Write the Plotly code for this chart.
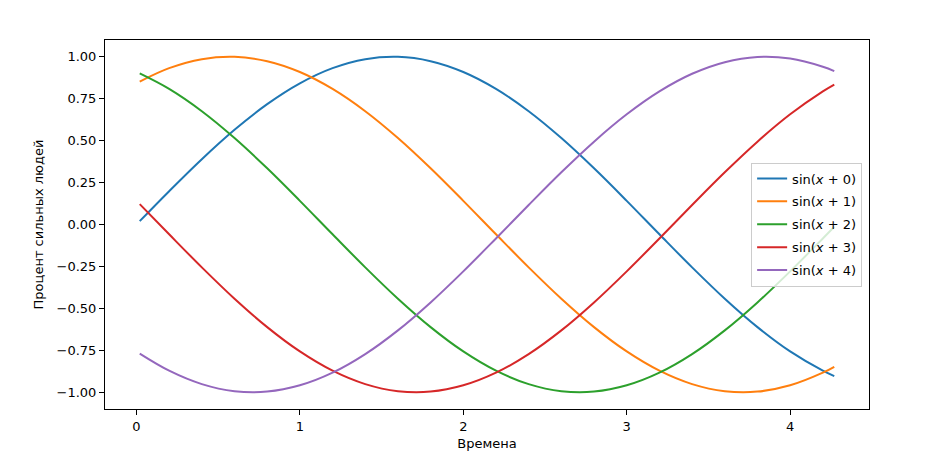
import plotly.graph_objects as go

x_vals = [0.02, 0.2, 0.4, 0.6, 0.8, 1.0, 1.2, 1.4, 1.6, 1.8, 2.0, 2.2, 2.4, 2.6, 2.8,
          3.0, 3.2, 3.4, 3.6, 3.8, 4.0, 4.2, 4.27]

y_sin0 = [0.0200, 0.1987, 0.3894, 0.5646, 0.7174, 0.8415, 0.9320, 0.9854, 0.9996, 0.9738,
          0.9093, 0.8085, 0.6755, 0.5155, 0.3350, 0.1411, -0.0584, -0.2555, -0.4425, -0.6119,
          -0.7568, -0.8716, -0.9038]
y_sin1 = [0.8521, 0.9320, 0.9854, 0.9996, 0.9738, 0.9093, 0.8085, 0.6755, 0.5155, 0.3350,
          0.1411, -0.0584, -0.2555, -0.4425, -0.6119, -0.7568, -0.8716, -0.9516, -0.9937, -0.9962,
          -0.9589, -0.8835, -0.8485]
y_sin2 = [0.9008, 0.8085, 0.6755, 0.5155, 0.3350, 0.1411, -0.0584, -0.2555, -0.4425, -0.6119,
          -0.7568, -0.8716, -0.9516, -0.9937, -0.9962, -0.9589, -0.8835, -0.7728, -0.6313, -0.4646,
          -0.2794, -0.0831, -0.0132]
y_sin3 = [0.1213, -0.0584, -0.2555, -0.4425, -0.6119, -0.7568, -0.8716, -0.9516, -0.9937, -0.9962,
          -0.9589, -0.8835, -0.7728, -0.6313, -0.4646, -0.2794, -0.0831, 0.1165, 0.3115, 0.4941,
          0.6570, 0.7937, 0.8343]
y_sin4 = [-0.7698, -0.8716, -0.9516, -0.9937, -0.9962, -0.9589, -0.8835, -0.7728, -0.6313, -0.4646,
          -0.2794, -0.0831, 0.1165, 0.3115, 0.4941, 0.6570, 0.7937, 0.8987, 0.9679, 0.9985,
          0.9894, 0.9407, 0.9147]

series_names = ["sin(<i>x</i> + 0)", "sin(<i>x</i> + 1)", "sin(<i>x</i> + 2)",
                "sin(<i>x</i> + 3)", "sin(<i>x</i> + 4)"]
series_values = [y_sin0, y_sin1, y_sin2, y_sin3, y_sin4]
colors = ["#1f77b4", "#ff7f0e", "#2ca02c", "#d62728", "#9467bd"]

x_ticks = [0, 1, 2, 3, 4]
y_ticks = [-1.0, -0.75, -0.5, -0.25, 0.0, 0.25, 0.5, 0.75, 1.0]

fig = go.Figure()
for i, (name, ys, c) in enumerate(zip(series_names, series_values, colors)):
    fig.add_trace(go.Scatter(x=x_vals, y=ys, mode="lines", name=name, legendgroup=f"g{i}",
                             line=dict(color=c, width=2, shape="spline")))

font = dict(family="DejaVu Sans", size=13, color="black")
axis_common = dict(showline=True, linecolor="black", linewidth=1, mirror=True,
                   ticks="outside", ticklen=5, tickcolor="black", showgrid=False,
                   zeroline=False, tickfont=font)

fig.update_layout(
    width=940, height=459,
    margin=dict(l=97, r=79, t=32, b=58),
    paper_bgcolor="white", plot_bgcolor="white",
    font=font,
    xaxis=dict(range=[-0.1925, 4.4825], tickvals=x_ticks, ticktext=[str(v) for v in x_ticks],
               title=dict(text="Времена", font=font, standoff=6), **axis_common),
    yaxis=dict(range=[-1.1, 1.1], tickvals=y_ticks, tickformat=".2f",
               title=dict(text="Процент сильных людей", font=font, standoff=10), **axis_common),
    legend=dict(x=0.991, y=0.5, xanchor="right", yanchor="middle",
                bgcolor="rgba(255,255,255,0.8)", bordercolor="#cccccc", borderwidth=1,
                font=font, tracegroupgap=3, itemwidth=30),
    showlegend=True,
)

fig.write_html("out.html")
